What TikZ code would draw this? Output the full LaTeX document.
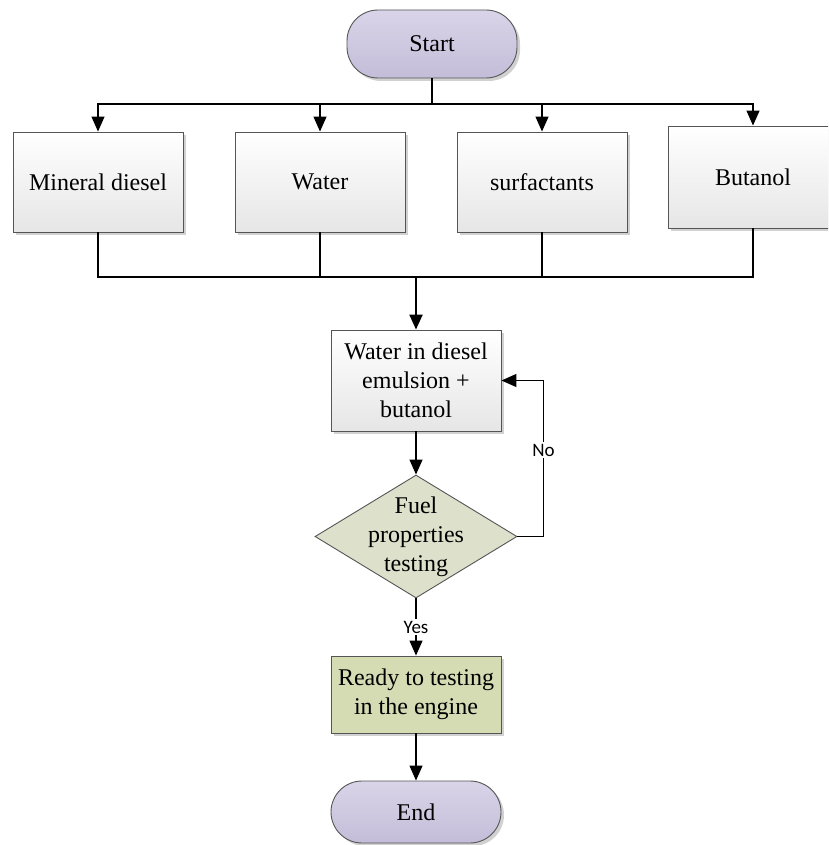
\documentclass[tikz,border=0pt]{standalone}
\usepackage{fontspec}
\setmainfont{Liberation Serif}
\newfontfamily\serifft{Liberation Serif}
\newfontfamily\lblfont{Carlito}
\usetikzlibrary{arrows.meta,shapes.geometric,shadows}
\definecolor{lavtop}{HTML}{D9D4E8}
\definecolor{lavbot}{HTML}{C4BDD9}
\definecolor{boxbot}{HTML}{E6E6E6}
\definecolor{diafill}{HTML}{DDE0CB}
\definecolor{readyfill}{HTML}{D5DCB4}
\definecolor{edgec}{HTML}{555555}
\tikzset{
  base/.style={draw=edgec, line width=0.9pt, font=\serifft\fontsize{24}{29}\selectfont, align=center, inner sep=0pt},
  shad/.style={drop shadow={shadow xshift=3pt, shadow yshift=-3pt, fill=black!18, opacity=1}},
  term/.style={base, shad, rounded corners=31pt, top color=lavtop, bottom color=lavbot, minimum width=170pt},
  box/.style={base, shad, rectangle, top color=white, bottom color=boxbot, minimum width=170pt},
  readybox/.style={base, shad, rectangle, fill=readyfill, minimum width=170pt, minimum height=77pt},
  dia/.style={draw=edgec, line width=0.9pt, diamond, fill=diafill, inner sep=0pt, minimum width=202pt, minimum height=123pt},
  txt/.style={font=\serifft\fontsize{24}{29}\selectfont, align=center, inner sep=0pt},
  conn/.style={draw=black, line width=1.3pt},
  arr/.style={conn, -{Triangle[width=13pt,length=15pt]}},
  lbl/.style={font=\lblfont\fontsize{19}{22}\selectfont, fill=white, inner sep=1.5pt}
}
\begin{document}
\begin{tikzpicture}[x=1pt,y=-1pt]
\useasboundingbox (0,0) rectangle (828,845);
\clip (0,0) rectangle (828,845);
% nodes
\node[term, minimum height=68pt] (start) at (432,44) {Start};
\node[box, minimum height=100pt] (md) at (98,182) {Mineral diesel};
\node[box, minimum height=100pt] (wa) at (320,182) {Water};
\node[box, minimum height=100pt] (su) at (542,182) {surfactants};
\node[box, minimum height=102pt] (bu) at (753,177) {Butanol};
\node[box, minimum height=101pt] (mix) at (416,380.5) {Water in diesel\\emulsion +\\butanol};
\node[dia] (fuel) at (416,536.5) {};
\node[txt] (fueltext) at (416,537) {Fuel\\properties\\testing};
\node[readybox] (ready) at (416,694.5) {Ready to testing\\in the engine};
\node[term, minimum height=62pt] (end) at (416,812) {End};
% top distribution
\coordinate (topbus) at (432,104);
\draw[conn] (start.south) -- (topbus);
\draw[arr] (topbus) -| (md.north);
\draw[arr] (topbus) -| (wa.north);
\draw[arr] (topbus) -| (su.north);
\draw[arr] (topbus) -| (bu.north);
% bottom collection
\coordinate (jn) at (416,277);
\draw[conn] (md.south) |- (jn);
\draw[conn] (wa.south) |- (jn);
\draw[conn] (su.south) |- (jn);
\draw[conn] (bu.south) |- (jn);
\draw[arr, line width=2.2pt] (jn) -- (mix.north);
% flow
\draw[arr] (mix.south) -- (fuel.north);
\draw[arr] (fuel.east) -- ++(26,0) coordinate (nc) |- (mix.east);
\node[lbl] (no) at (nc |- 0,450) {No};
\draw[arr] (fuel.south) -- node[lbl] (yes) {Yes} (ready.north);
\draw[arr] (ready.south) -- (end.north);
\end{tikzpicture}
\end{document}
